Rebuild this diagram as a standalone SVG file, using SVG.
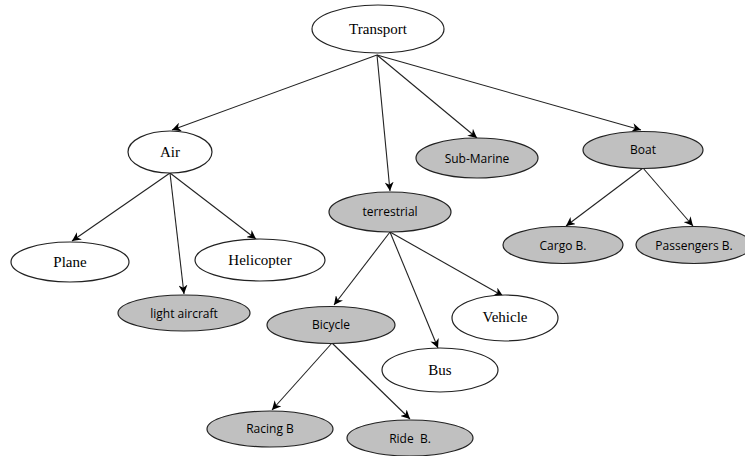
<svg xmlns="http://www.w3.org/2000/svg" width="745" height="456" viewBox="0 0 745 456">
<defs>
<marker id="arr" viewBox="0 0 10 10" refX="10" refY="5" markerWidth="9" markerHeight="9" markerUnits="userSpaceOnUse" orient="auto">
<path d="M0,0 L10,5 L0,10 L3,5 Z" fill="#000"/>
</marker>
<style>
.w{fill:#fff;stroke:#222;stroke-width:1.2}
.g{fill:#c0c0c0;stroke:#222;stroke-width:1.2}
.ts{font-family:"Liberation Serif","DejaVu Serif",serif;font-size:15px;fill:#000;text-anchor:middle}
.tg{font-family:"Open Sans","Liberation Sans",sans-serif;font-size:12px;fill:#000;text-anchor:middle;white-space:pre}
.c{stroke:#222;stroke-width:1.1;fill:none;marker-end:url(#arr)}
</style>
</defs>
<rect width="745" height="456" fill="#fff"/>
<g id="connectors">
<line class="c" x1="377" y1="55" x2="172" y2="130"/>
<line class="c" x1="377" y1="55" x2="390" y2="191"/>
<line class="c" x1="377" y1="55" x2="477" y2="138"/>
<line class="c" x1="377" y1="55" x2="641" y2="130"/>
<line class="c" x1="170" y1="173" x2="72" y2="241"/>
<line class="c" x1="170" y1="173" x2="184" y2="294"/>
<line class="c" x1="170" y1="173" x2="256" y2="239"/>
<line class="c" x1="390" y1="232" x2="334" y2="305"/>
<line class="c" x1="390" y1="232" x2="438" y2="348"/>
<line class="c" x1="390" y1="232" x2="503" y2="296"/>
<line class="c" x1="332" y1="343" x2="272" y2="410"/>
<line class="c" x1="332" y1="343" x2="410" y2="419"/>
<line class="c" x1="643" y1="168" x2="566" y2="226"/>
<line class="c" x1="643" y1="168" x2="693" y2="226"/>
</g>
<g id="transport"><ellipse class="w" cx="378" cy="29" rx="66" ry="24"/><text class="ts" x="378" y="34">Transport</text></g>
<g id="air"><ellipse class="w" cx="170" cy="152" rx="42" ry="21"/><text class="ts" x="170" y="157">Air</text></g>
<g id="plane"><ellipse class="w" cx="70" cy="262" rx="59" ry="20"/><text class="ts" x="70" y="267">Plane</text></g>
<g id="helicopter"><ellipse class="w" cx="260" cy="260" rx="65" ry="21"/><text class="ts" x="260" y="265">Helicopter</text></g>
<g id="light-aircraft"><ellipse class="g" cx="184" cy="313" rx="66" ry="18"/><text class="tg" x="184" y="318">light aircraft</text></g>
<g id="terrestrial"><ellipse class="g" cx="390" cy="212" rx="61" ry="20"/><text class="tg" x="390" y="216">terrestrial</text></g>
<g id="sub-marine"><ellipse class="g" cx="477" cy="158" rx="61" ry="20"/><text class="tg" x="477" y="163">Sub-Marine</text></g>
<g id="boat"><ellipse class="g" cx="643" cy="150" rx="60" ry="18.5"/><text class="tg" x="643" y="154">Boat</text></g>
<g id="cargo"><ellipse class="g" cx="563" cy="245" rx="60" ry="18.5"/><text class="tg" x="563" y="250">Cargo B.</text></g>
<g id="passengers"><ellipse class="g" cx="694" cy="245" rx="58" ry="18.5"/><text class="tg" x="694" y="250">Passengers B.</text></g>
<g id="bicycle"><ellipse class="g" cx="331" cy="325" rx="64" ry="18.5"/><text class="tg" x="331" y="329">Bicycle</text></g>
<g id="bus"><ellipse class="w" cx="440" cy="370" rx="58" ry="22"/><text class="ts" x="440" y="375">Bus</text></g>
<g id="vehicle"><ellipse class="w" cx="505" cy="318" rx="53" ry="23"/><text class="ts" x="505" y="322">Vehicle</text></g>
<g id="racing"><ellipse class="g" cx="270" cy="429" rx="63" ry="18"/><text class="tg" x="270" y="433">Racing B</text></g>
<g id="ride"><ellipse class="g" cx="410" cy="438" rx="63" ry="18"/><text class="tg" x="410" y="443">Ride  B.</text></g>
</svg>
